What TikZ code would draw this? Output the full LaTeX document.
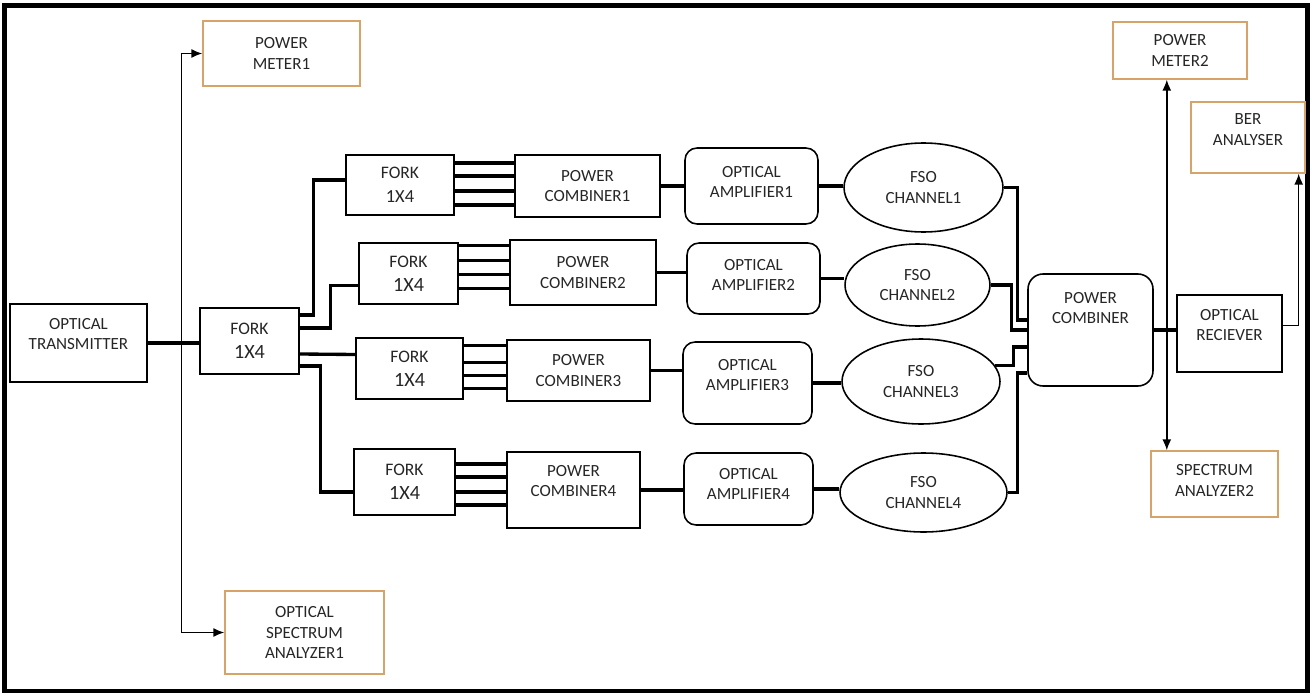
\documentclass[tikz,border=0pt]{standalone}
\usepackage{fontspec}
\setmainfont{Carlito}
\usetikzlibrary{arrows.meta,calc,shapes.geometric}
\definecolor{meterorange}{RGB}{214,163,104}

\begin{document}
\begin{tikzpicture}[
  x=0.02cm, y=-0.02cm,
  blk/.style={draw, line width=0.9pt, align=center, inner sep=1pt, text=black!85, font=\fontsize{9.7}{11.5}\selectfont},
  rblk/.style={blk, rounded corners=0.24cm},
  chan/.style={blk, ellipse},
  meas/.style={blk, draw=meterorange, line width=0.8pt},
  fork/.style={blk, font=\fontsize{10}{13.5}\selectfont},
  bus/.style={line width=1.9pt},
  tap/.style={line width=0.8pt, ->},
  >={Latex[length=2.2mm,width=1.8mm]}
]
  \useasboundingbox (0,0) rectangle (1312,696);
  \draw[line width=2.3pt] (4.5,5.5) rectangle (1307.5,691);

  \node[blk, minimum width=2.74cm, minimum height=1.56cm, text depth=10pt] (tx) at (78.5,343) {OPTICAL\\TRANSMITTER};
  \node[fork, minimum width=1.98cm, minimum height=1.32cm] (fk0) at (249.5,341) {FORK\\{\fontsize{11.5}{13}\selectfont 1X4}};
  \node[meas, minimum width=3.14cm, minimum height=1.30cm] (pm1) at (281.5,53.5) {POWER\\METER1};
  \node[meas, minimum width=3.18cm, minimum height=1.66cm] (osa1) at (304.5,632.5) {OPTICAL\\SPECTRUM\\ANALYZER1};

  \node[fork, minimum width=2.16cm, minimum height=1.20cm] (fk1) at (400,185) {FORK\\{\fontsize{10.5}{13}\selectfont 1X4}};
  \node[fork, minimum width=1.98cm, minimum height=1.22cm] (fk2) at (408.5,273.5) {FORK\\{\fontsize{11.5}{13}\selectfont 1X4}};
  \node[fork, minimum width=2.14cm, minimum height=1.22cm] (fk3) at (409.5,368.5) {FORK\\{\fontsize{11.5}{13}\selectfont 1X4}};
  \node[fork, minimum width=2.02cm, minimum height=1.32cm] (fk4) at (404.5,482) {FORK\\{\fontsize{11.5}{13}\selectfont 1X4}};

  \node[blk, minimum width=2.90cm, minimum height=1.24cm] (pc1) at (587.5,186) {POWER\\COMBINER1};
  \node[blk, minimum width=2.92cm, minimum height=1.30cm] (pc2) at (583,272.5) {POWER\\COMBINER2};
  \node[blk, minimum width=2.86cm, minimum height=1.22cm] (pc3) at (578.5,370.5) {POWER\\COMBINER3};
  \node[blk, minimum width=2.66cm, minimum height=1.52cm, text depth=10pt] (pc4) at (573.5,490) {POWER\\COMBINER4};

  \node[rblk, minimum width=2.66cm, minimum height=1.52cm, text depth=5pt] (amp1) at (751.5,186) {OPTICAL\\AMPLIFIER1};
  \node[rblk, minimum width=2.66cm, minimum height=1.42cm, text depth=4pt] (amp2) at (753.5,278.5) {OPTICAL\\AMPLIFIER2};
  \node[rblk, minimum width=2.58cm, minimum height=1.64cm, text depth=9pt] (amp3) at (747.5,383) {OPTICAL\\AMPLIFIER3};
  \node[rblk, minimum width=2.58cm, minimum height=1.44cm, text depth=6pt] (amp4) at (748.5,489) {OPTICAL\\AMPLIFIER4};

  \node[chan, minimum width=3.18cm, minimum height=1.78cm] (fso1) at (923.5,187.5) {FSO\\CHANNEL1};
  \node[chan, minimum width=2.90cm, minimum height=1.64cm] (fso2) at (917.5,285) {FSO\\CHANNEL2};
  \node[chan, minimum width=3.16cm, minimum height=1.70cm] (fso3) at (921,381.5) {FSO\\CHANNEL3};
  \node[chan, minimum width=3.34cm, minimum height=1.58cm] (fso4) at (923.5,492.5) {FSO\\CHANNEL4};

  \node[blk, rounded corners=0.3cm, minimum width=2.50cm, minimum height=2.24cm, text depth=25pt] (pcm) at (1090.5,330) {POWER\\COMBINER};
  \node[blk, minimum width=2.10cm, minimum height=1.54cm, text depth=10pt] (rx) at (1229.5,333.5) {OPTICAL\\RECIEVER};
  \node[meas, minimum width=2.68cm, minimum height=1.14cm] (pm2) at (1180,50.5) {POWER\\METER2};
  \node[meas, minimum width=2.28cm, minimum height=1.42cm, text depth=9pt] (ber) at (1248,137.5) {BER\\ANALYSER};
  \node[meas, minimum width=2.54cm, minimum height=1.32cm, text depth=4pt] (sa2) at (1214.5,484) {SPECTRUM\\ANALYZER2};

  % transmitter side
  \coordinate (tap) at ($(tx.east)!0.66!(fk0.west)$);
  \draw[bus] (tx.east) -- (tx.east -| fk0.west);
  \draw[tap] (tap) |- (pm1.west);
  \draw[tap] (tap) |- (osa1.west);

  % splitting into four branches
  \draw[bus] ($(fk0.east)+(0,-26)$) -- ++(14,0) |- ($(fk1.west)+(0,-5)$);
  \draw[bus] ($(fk0.east)+(0,-13)$) -- ++(31,0) |- ($(fk2.west)+(0,12)$);
  \draw[bus] ($(fk0.east)+(0,13)$) -- ($(fk3.west)+(0,-14)$);
  \draw[bus] ($(fk0.east)+(0,25)$) -- ++(21,0) |- ($(fk4.west)+(0,10)$);

  % four fibres per fork
  \draw[bus] ($(fk1.east)+(0,-22)$) coordinate (w) -- (w -| pc1.west)
             ($(fk1.east)+(0,-9)$) coordinate (w) -- (w -| pc1.west)
             ($(fk1.east)+(0,6)$) coordinate (w) -- (w -| pc1.west)
             ($(fk1.east)+(0,20)$) coordinate (w) -- (w -| pc1.west);
  \draw[bus] ($(fk2.east)+(0,-28)$) coordinate (w) -- (w -| pc2.west)
             ($(fk2.east)+(0,-13)$) coordinate (w) -- (w -| pc2.west)
             ($(fk2.east)+(0,1)$) coordinate (w) -- (w -| pc2.west)
             ($(fk2.east)+(0,15)$) coordinate (w) -- (w -| pc2.west);
  \draw[bus] ($(fk3.east)+(0,-23)$) coordinate (w) -- (w -| pc3.west)
             ($(fk3.east)+(0,-6)$) coordinate (w) -- (w -| pc3.west)
             ($(fk3.east)+(0,7)$) coordinate (w) -- (w -| pc3.west)
             ($(fk3.east)+(0,20)$) coordinate (w) -- (w -| pc3.west);
  \draw[bus] ($(fk4.east)+(0,-18)$) coordinate (w) -- (w -| pc4.west)
             ($(fk4.east)+(0,-5)$) coordinate (w) -- (w -| pc4.west)
             ($(fk4.east)+(0,10)$) coordinate (w) -- (w -| pc4.west)
             ($(fk4.east)+(0,23)$) coordinate (w) -- (w -| pc4.west);

  % combiners -> amplifiers -> channels
  \draw[bus] (pc1.east) -- (pc1.east -| amp1.west);
  \draw[bus] (pc2.east) -- (pc2.east -| amp2.west);
  \draw[bus] (pc3.east) -- (pc3.east -| amp3.west);
  \draw[bus] (pc4.east) -- (pc4.east -| amp4.west);
  \draw[bus] (amp1.east) -- (amp1.east -| fso1.west);
  \draw[bus] (amp2.east) -- (amp2.east -| fso2.west);
  \draw[bus] (amp3.east) -- (amp3.east -| fso3.west);
  \draw[bus] (amp4.east) -- (amp4.east -| fso4.west);

  % channels into the combiner
  \draw[bus] (fso1.east) -- ++(14,0) |- ($(pcm.west)+(0,-10)$);
  \draw[bus] (fso2.east) -- ++(21,0) |- (pcm.west);
  \draw[bus] (fso3.12) -- ++(18.5,0) |- ($(pcm.west)+(0,17)$);
  \draw[bus] (fso4.east) -- ++(10,0) |- ($(pcm.west)+(0,43)$);

  % receiver side
  \coordinate (split) at ($(pcm.east)!0.58!(pcm.east -| rx.west)$);
  \draw[bus] (pcm.east) -- (pcm.east -| rx.west);
  \draw[tap] (split) -- (split |- pm2.south);
  \draw[tap] (split) -- (split |- sa2.north);
  \draw[tap] ($(rx.east)+(0,-8)$) -| ($(ber.south east)+(-7,0)$);
\end{tikzpicture}
\end{document}
